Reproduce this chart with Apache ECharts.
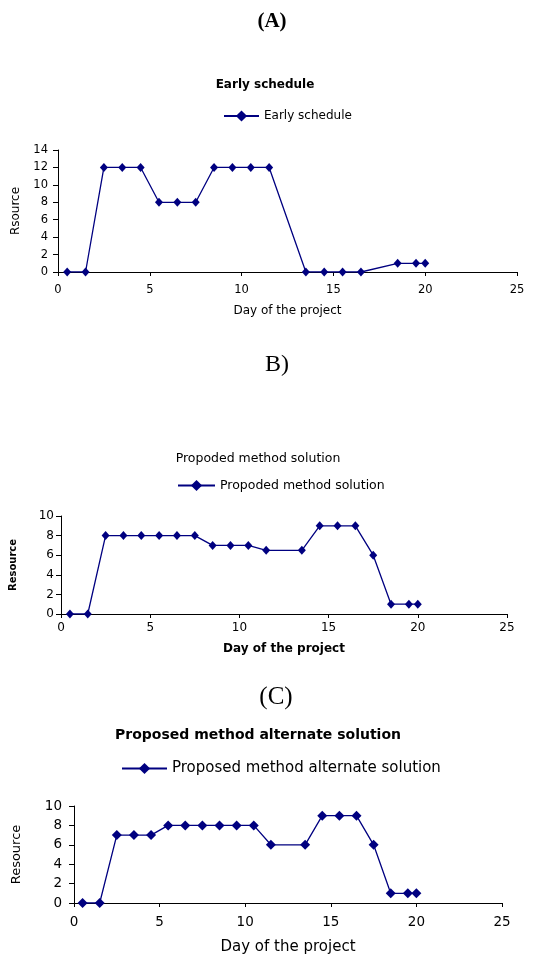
<!DOCTYPE html>
<html>
<head>
<meta charset="utf-8">
<script src="https://cdn.jsdelivr.net/npm/echarts@6/dist/echarts.min.js"></script>
<style>html,body{margin:0;padding:0;background:#fff;}#c{width:536px;height:956px;}</style>
</head>
<body>
<div id="c"></div>
<script>
// Chart A: Early schedule
const daysA = [0.5, 1.5, 2.5, 3.5, 4.5, 5.5, 6.5, 7.5, 8.5, 9.5, 10.5, 11.5, 13.5, 14.5, 15.5, 16.5, 18.5, 19.5, 20];
const resA  = [0, 0, 12, 12, 12, 8, 8, 8, 12, 12, 12, 12, 0, 0, 0, 0, 1, 1, 1];
// Chart B: Propoded method solution
const daysB = [0.5, 1.5, 2.5, 3.5, 4.5, 5.5, 6.5, 7.5, 8.5, 9.5, 10.5, 11.5, 13.5, 14.5, 15.5, 16.5, 17.5, 18.5, 19.5, 20];
const resB  = [0, 0, 8, 8, 8, 8, 8, 8, 7, 7, 7, 6.5, 6.5, 9, 9, 9, 6, 1, 1, 1];
// Chart C: Proposed method alternate solution
const daysC = [0.5, 1.5, 2.5, 3.5, 4.5, 5.5, 6.5, 7.5, 8.5, 9.5, 10.5, 11.5, 13.5, 14.5, 15.5, 16.5, 17.5, 18.5, 19.5, 20];
const resC  = [0, 0, 7, 7, 7, 8, 8, 8, 8, 8, 8, 6, 6, 9, 9, 9, 6, 1, 1, 1];

const nameA = 'Early schedule';
const nameB = 'Propoded method solution';
const nameC = 'Proposed method alternate solution';

const NAVY = '#000080';
const FONT = 'DejaVu Sans';

function pairs(xs, ys) { return xs.map((x, i) => [x, ys[i]]); }

function xAx(gi, fs, margin, nameSize, nameGap, bold) {
  return {
    type: 'value', gridIndex: gi, min: 0, max: 25, interval: 5,
    axisLine: { show: true, lineStyle: { color: '#000', width: 1 } },
    axisTick: { show: true, length: 4, lineStyle: { color: '#000' } },
    splitLine: { show: false },
    axisLabel: { color: '#000', fontFamily: FONT, fontSize: fs, margin: margin },
    name: 'Day of the project', nameLocation: 'middle', nameGap: nameGap,
    nameTextStyle: { color: '#000', fontFamily: FONT, fontSize: nameSize, fontWeight: bold ? 'bold' : 'normal' }
  };
}
function yAx(gi, max, fs, margin, name, nameSize, nameGap, bold) {
  return {
    type: 'value', gridIndex: gi, min: 0, max: max, interval: 2,
    axisLine: { show: true, lineStyle: { color: '#000', width: 1 } },
    axisTick: { show: true, length: 5, lineStyle: { color: '#000' } },
    splitLine: { show: false },
    axisLabel: { color: '#000', fontFamily: FONT, fontSize: fs, margin: margin },
    name: name, nameLocation: 'middle', nameGap: nameGap, nameRotate: 90,
    nameTextStyle: { color: '#000', fontFamily: FONT, fontSize: nameSize, fontWeight: bold ? 'bold' : 'normal' }
  };
}
function ser(name, gi, xs, ys, size) {
  return {
    type: 'line', name: name, xAxisIndex: gi, yAxisIndex: gi,
    data: pairs(xs, ys), symbol: 'diamond', symbolSize: size,
    lineStyle: { color: NAVY, width: 1.3 }, itemStyle: { color: NAVY },
    showAllSymbol: true
  };
}
function txt(x, y, s, font) {
  return { type: 'text', x: x, y: y, style: { text: s, font: font, fill: '#000', textAlign: 'center', textVerticalAlign: 'middle' } };
}

const chart = echarts.init(document.getElementById('c'));
chart.setOption({
  animation: false,
  backgroundColor: '#fff',
  graphic: [
    txt(272, 22, '(A)', 'bold 21px "Liberation Serif"'),
    txt(277, 365, 'B)', '24px "Liberation Serif"'),
    txt(276, 697, '(C)', '25px "Liberation Serif"'),
    txt(265, 85, nameA, 'bold 12px "DejaVu Sans"'),
    txt(258, 459, nameB, '12.5px "DejaVu Sans"'),
    txt(258, 735, nameC, 'bold 14px "DejaVu Sans"')
  ],
  legend: [
    { data: [nameA], left: 218, top: 105, itemWidth: 35, itemHeight: 14,
      textStyle: { color: '#000', fontFamily: FONT, fontSize: 12 } },
    { data: [nameB], left: 172, top: 474, itemWidth: 37, itemHeight: 14,
      textStyle: { color: '#000', fontFamily: FONT, fontSize: 12.5 } },
    { data: [nameC], left: 116, top: 756, itemWidth: 45, itemHeight: 14,
      textStyle: { color: '#000', fontFamily: FONT, fontSize: 15 } }
  ],
  grid: [
    { left: 58, top: 150, width: 459, height: 122 },
    { left: 57, top: 516, width: 450, height: 98 },
    { left: 74, top: 806, width: 428, height: 97 }
  ],
  xAxis: [
    xAx(0, 11.5, 12, 12, 33, false),
    xAx(1, 12, 8, 12, 29, true),
    xAx(2, 13.5, 12, 15, 37, false)
  ],
  yAxis: [
    yAx(0, 14, 11.5, 10, 'Rsource', 12, 36, false),
    yAx(1, 10, 12, 7, 'Resource', 10, 43, true),
    yAx(2, 10, 13.5, 12, 'Resource', 13, 51, false)
  ],
  series: [
    ser(nameA, 0, daysA, resA, [8, 9]),
    ser(nameB, 1, daysB, resB, [8, 9]),
    ser(nameC, 2, daysC, resC, [10, 10])
  ]
});
</script>
</body>
</html>
